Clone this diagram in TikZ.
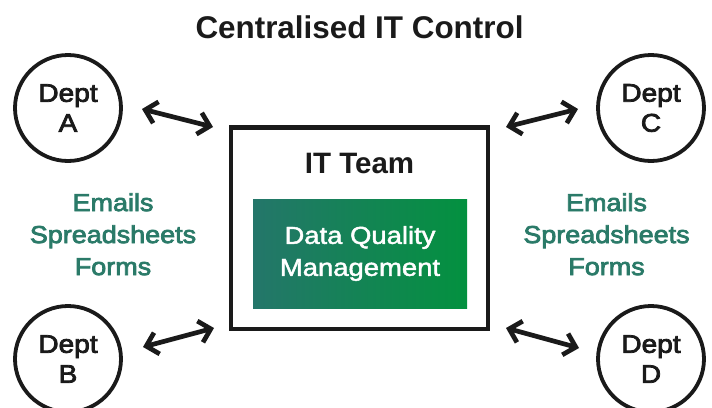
\documentclass[tikz,border=0pt]{standalone}
\usepackage{fontspec}
\setmainfont{Liberation Sans}
\newfontfamily\medfont[FakeStretch=1.1,FakeBold=3]{Liberation Sans}
\newfontfamily\regfont[FakeStretch=1.12,FakeBold=1.8]{Liberation Sans}
\usetikzlibrary{arrows.meta}
\definecolor{ink}{HTML}{1A1A1A}
\definecolor{tealtext}{HTML}{2A7A68}
\definecolor{gradL}{HTML}{24766A}
\definecolor{gradR}{HTML}{03913F}
\begin{document}
\begin{tikzpicture}[x=1pt,y=-1pt,
  dept/.style={circle,draw=ink,line width=3.8pt,minimum size=106pt,inner sep=0pt,align=center,text=ink,font=\medfont\fontsize{25.5}{30}\selectfont},
  channels/.style={align=center,text=tealtext,inner sep=0pt,font=\medfont\fontsize{24.5}{32}\selectfont},
  headline/.style={anchor=base,inner sep=0pt,text=ink,font=\bfseries\fontsize{#1}{36}\selectfont},
  link/.style={{Straight Barb[length=11pt,width=22pt]}-{Straight Barb[length=11pt,width=22pt]},line width=4.7pt,draw=ink,line cap=round,line join=round}
]
\useasboundingbox (0,0) rectangle (712,407);
\fill[white] (0,0) rectangle (712,407);

\node[headline=31.4] (title) at (359.5,38) {Centralised IT Control};

\node[draw=ink,line width=4.5pt,minimum width=257pt,minimum height=201.5pt,inner sep=0pt] (it) at (359.5,228.25) {};
\node[headline=29.5] (itlabel) at (359.5,173) {IT Team};
\node[minimum width=214pt,minimum height=109pt,inner sep=0pt,left color=gradL,right color=gradR,text=white,align=center,font=\regfont\fontsize{24.5}{32}\selectfont] (dqm) at (360,253.5) {Data Quality\\Management};

\node[dept] (A) at (68,108) {Dept\\A};
\node[dept] (B) at (68,359) {Dept\\B};
\node[dept] (C) at (651,108) {Dept\\C};
\node[dept] (D) at (651,359) {Dept\\D};

\node[channels] (chL) at (113,234.3) {Emails\\Spreadsheets\\Forms};
\node[channels] (chR) at (606.5,234.3) {Emails\\Spreadsheets\\Forms};

\coordinate (a1) at (142,109);
\coordinate (a2) at (213,127);
\coordinate (b1) at (143,347);
\coordinate (b2) at (214,328);
\coordinate (c1) at (506,127);
\coordinate (c2) at (578,109);
\coordinate (d1) at (506,328);
\coordinate (d2) at (579,348);
\draw[link] (a1) -- (a2);
\draw[link] (b1) -- (b2);
\draw[link] (c1) -- (c2);
\draw[link] (d1) -- (d2);
\end{tikzpicture}
\end{document}
